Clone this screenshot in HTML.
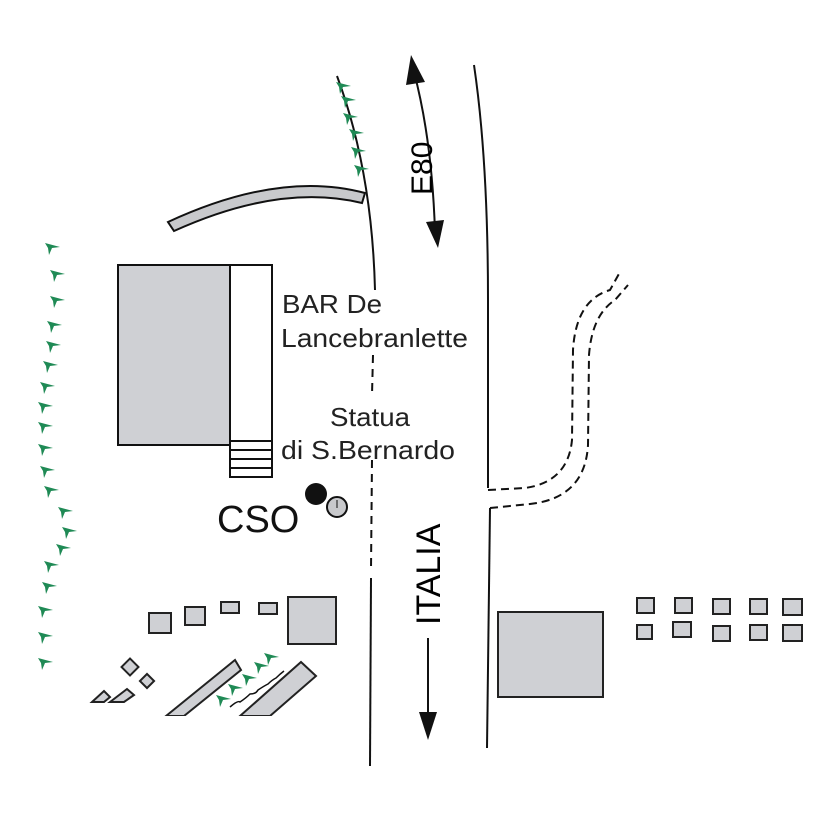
<!DOCTYPE html>
<html><head><style>body{margin:0;background:#fff}svg{display:block}</style></head>
<body>
<svg width="827" height="827" viewBox="0 0 827 827" xmlns="http://www.w3.org/2000/svg" font-family="Liberation Sans, sans-serif">
<defs>
<path id="t" d="M0,0 L15,4 L7,5 L4,12 L3,5 Z" fill="#1f8a55"/>
</defs>
<!-- roads -->
<path d="M337,76 Q372,170 375,290" fill="none" stroke="#111" stroke-width="2"/>
<line x1="373" y1="355" x2="372" y2="395" stroke="#111" stroke-width="2" stroke-dasharray="8,6"/>
<line x1="372" y1="460" x2="371" y2="570" stroke="#111" stroke-width="2" stroke-dasharray="8,6"/>
<line x1="371" y1="578" x2="370" y2="766" stroke="#111" stroke-width="2"/>
<path d="M474,65 Q488,160 488,300 L488,488" fill="none" stroke="#111" stroke-width="2"/>
<path d="M490,508 L487,748" fill="none" stroke="#111" stroke-width="2"/>
<!-- dashed path -->
<path d="M488,490 L525,488 Q568,482 572,440 L573,350 Q576,300 610,290 L620,272" fill="none" stroke="#111" stroke-width="2" stroke-dasharray="8,5"/>
<path d="M490,508 L530,504 Q585,498 588,445 L589,355 Q592,315 615,300 L628,285" fill="none" stroke="#111" stroke-width="2" stroke-dasharray="8,5"/>
<!-- E80 arrow -->
<path d="M414,72 Q432,140 435,232" fill="none" stroke="#111" stroke-width="2"/>
<path d="M411,55 L425,82 L406,85 Z" fill="#111"/>
<path d="M438,248 L426,222 L444,220 Z" fill="#111"/>
<text transform="translate(432,195) rotate(-90)" font-size="30">E80</text>
<!-- ITALIA -->
<text transform="translate(440,625) rotate(-90)" font-size="34">ITALIA</text>
<line x1="428" y1="638" x2="428" y2="720" stroke="#111" stroke-width="2"/>
<path d="M428,740 L419,712 L437,712 Z" fill="#111"/>
<!-- curved bar -->
<path d="M168,222 Q280,170 365,193 L362,203 Q280,183 174,231 Z" fill="#c8c9cc" stroke="#111" stroke-width="2"/>
<!-- building -->
<rect x="118" y="265" width="112" height="180" fill="#cfd0d4" stroke="#111" stroke-width="2"/>
<rect x="230" y="265" width="42" height="212" fill="#fff" stroke="#111" stroke-width="2"/>
<g stroke="#111" stroke-width="2"><line x1="230" y1="441" x2="272" y2="441"/><line x1="230" y1="450" x2="272" y2="450"/><line x1="230" y1="459" x2="272" y2="459"/><line x1="230" y1="468" x2="272" y2="468"/></g>
<g fill="#222" font-size="26">
<text x="282" y="313" textLength="100" lengthAdjust="spacingAndGlyphs">BAR De</text>
<text x="281" y="347" textLength="187" lengthAdjust="spacingAndGlyphs">Lancebranlette</text>
<text x="330" y="426" textLength="80" lengthAdjust="spacingAndGlyphs">Statua</text>
<text x="281" y="459" textLength="174" lengthAdjust="spacingAndGlyphs">di S.Bernardo</text>
</g>
<text x="217" y="532" font-size="38" fill="#111">CSO</text>
<circle cx="316" cy="494" r="11" fill="#111"/>
<circle cx="337" cy="507" r="10" fill="#c8c9cc" stroke="#111" stroke-width="2"/>
<line x1="337" y1="500" x2="337" y2="508" stroke="#111" stroke-width="1"/>
<!-- squares bottom-left -->
<g fill="#cfd0d4" stroke="#222" stroke-width="2">
<rect x="149" y="613" width="22" height="20"/>
<rect x="185" y="607" width="20" height="18"/>
<rect x="221" y="602" width="18" height="11"/>
<rect x="259" y="603" width="18" height="11"/>
<rect x="288" y="597" width="48" height="47"/>
<rect x="124" y="661" width="12" height="12" transform="rotate(45 130 667)"/>
<rect x="142" y="676" width="10" height="10" transform="rotate(45 147 681)"/>
<path d="M92,702 L104,691 L110,697 L104,702 Z"/>
<path d="M110,702 L127,689 L134,695 L124,702 Z"/>
<path d="M166,716 L235,660 L241,670 L184,716 Z"/>
<path d="M240,716 L301,662 L316,676 L270,716 Z"/>
<rect x="498" y="612" width="105" height="85"/>
<rect x="637" y="598" width="17" height="15"/><rect x="675" y="598" width="17" height="15"/><rect x="713" y="599" width="17" height="15"/><rect x="750" y="599" width="17" height="15"/><rect x="783" y="599" width="19" height="16"/>
<rect x="637" y="625" width="15" height="14"/><rect x="673" y="622" width="18" height="15"/><rect x="713" y="626" width="17" height="15"/><rect x="750" y="625" width="17" height="15"/><rect x="783" y="625" width="19" height="16"/>
</g>
<path d="M230,707 Q238,700 240,702 Q246,698 250,694 Q256,694 258,690 Q264,686 268,684 Q272,680 276,678 Q280,674 284,671" fill="none" stroke="#111" stroke-width="1.5"/>
<rect x="0" y="716" width="360" height="20" fill="#fff"/>
<!-- trees -->
<g>
<use href="#t" x="216" y="695"/><use href="#t" x="228" y="684"/><use href="#t" x="242" y="674"/><use href="#t" x="254" y="662"/><use href="#t" x="264" y="653"/>
<use href="#t" x="336" y="82"/><use href="#t" x="341" y="96"/><use href="#t" x="343" y="113"/><use href="#t" x="349" y="129"/><use href="#t" x="351" y="147"/><use href="#t" x="354" y="165"/>
<use href="#t" x="45" y="243"/><use href="#t" x="50" y="270"/><use href="#t" x="50" y="296"/><use href="#t" x="47" y="321"/><use href="#t" x="46" y="341"/><use href="#t" x="43" y="361"/><use href="#t" x="40" y="382"/><use href="#t" x="38" y="402"/><use href="#t" x="38" y="422"/><use href="#t" x="38" y="444"/><use href="#t" x="40" y="466"/><use href="#t" x="44" y="486"/><use href="#t" x="58" y="507"/><use href="#t" x="62" y="527"/><use href="#t" x="56" y="544"/><use href="#t" x="44" y="561"/><use href="#t" x="42" y="582"/><use href="#t" x="38" y="606"/><use href="#t" x="38" y="632"/><use href="#t" x="38" y="658"/>
</g>
</svg>
</body></html>
